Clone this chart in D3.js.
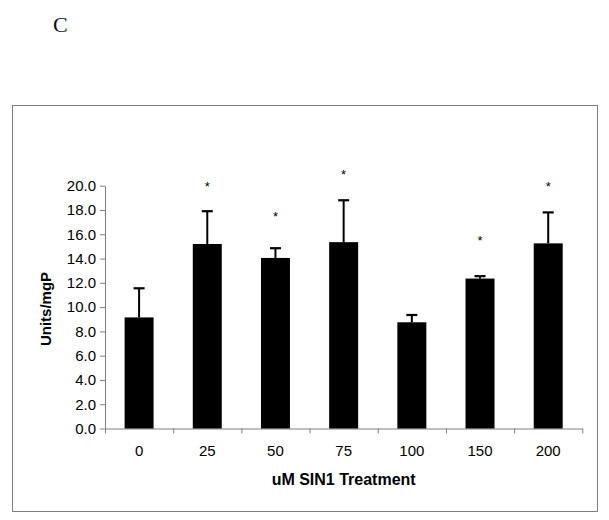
<!DOCTYPE html>
<html>
<head>
<meta charset="utf-8">
<script src="https://cdn.jsdelivr.net/npm/d3@7"></script>
<style>
  html, body { margin: 0; padding: 0; background: #fff; }
  svg { display: block; }
</style>
</head>
<body>
<svg id="chart" width="609" height="520"></svg>
<script>
// ---- data ----
const categories = ["0", "25", "50", "75", "100", "150", "200"];
const means      = [9.15, 15.2, 14.05, 15.35, 8.75, 12.35, 15.25];
const errorTops  = [11.55, 17.9, 14.85, 18.8, 9.35, 12.55, 17.8];
const starLevels = [null, 20.15, 17.7, 21.1, null, 15.7, 20.1];
const yTicks     = [0, 2, 4, 6, 8, 10, 12, 14, 16, 18, 20];
const panelLabel = "C";
const xTitle = "uM SIN1 Treatment";
const yTitle = "Units/mgP";

(function () {
// ---- layout ----
const svg = d3.select("#chart");
const plotLeft = 105, plotRight = 582.3, plotTop = 185.7, plotBottom = 428.5;
const axisGray = "#808080";

svg.append("text")
  .attr("x", 53).attr("y", 32)
  .attr("font-family", "Liberation Serif, Times New Roman, serif")
  .attr("font-size", 22)
  .attr("fill", "#111")
  .text(panelLabel);

svg.append("rect")
  .attr("x", 12.5).attr("y", 105.5)
  .attr("width", 585).attr("height", 406)
  .attr("fill", "none").attr("stroke", axisGray).attr("stroke-width", 1);

const x = d3.scaleBand().domain(categories).range([plotLeft, plotRight])
  .paddingInner(0.575).paddingOuter(0.2875);
const y = d3.scaleLinear().domain([0, 20]).range([plotBottom, plotTop]);

// y axis
const yAxis = svg.append("g")
  .attr("transform", `translate(${plotLeft},0)`)
  .call(d3.axisLeft(y).tickValues(yTicks).tickFormat(d3.format(".1f"))
    .tickSize(5).tickSizeOuter(0).tickPadding(4));
yAxis.select(".domain").attr("stroke", axisGray);
yAxis.selectAll(".tick line").attr("stroke", axisGray);
yAxis.selectAll(".tick text")
  .attr("font-family", "Liberation Sans, Arial, sans-serif")
  .attr("font-size", 15).attr("fill", "#000");

// x axis (ticks at category boundaries)
const xb = d3.scaleLinear().domain([0, categories.length]).range([plotLeft, plotRight]);
const xAxis = svg.append("g")
  .attr("transform", `translate(0,${plotBottom})`)
  .call(d3.axisBottom(xb).tickValues(d3.range(categories.length + 1))
    .tickFormat("").tickSize(5).tickSizeOuter(0));
xAxis.select(".domain").attr("stroke", axisGray);
xAxis.selectAll(".tick line").attr("stroke", axisGray);

svg.append("g").selectAll("text").data(categories).join("text")
  .attr("x", d => x(d) + x.bandwidth() / 2)
  .attr("y", 456)
  .attr("text-anchor", "middle")
  .attr("font-family", "Liberation Sans, Arial, sans-serif")
  .attr("font-size", 15).attr("fill", "#000")
  .text(d => d);

// error bars (upper only)
const eb = svg.append("g");
categories.forEach((c, i) => {
  const cx = x(c) + x.bandwidth() / 2;
  eb.append("line")
    .attr("x1", cx).attr("x2", cx)
    .attr("y1", y(means[i])).attr("y2", y(errorTops[i]))
    .attr("stroke", "#000").attr("stroke-width", 2);
  eb.append("line")
    .attr("x1", cx - 5.5).attr("x2", cx + 5.5)
    .attr("y1", y(errorTops[i])).attr("y2", y(errorTops[i]))
    .attr("stroke", "#000").attr("stroke-width", 2.2);
});

// bars
svg.append("g").selectAll("rect").data(categories).join("rect")
  .attr("x", d => x(d))
  .attr("width", x.bandwidth())
  .attr("y", (d, i) => y(means[i]))
  .attr("height", (d, i) => y(0) - y(means[i]))
  .attr("fill", "#000");

// significance stars
svg.append("g").selectAll("text")
  .data(categories.map((c, i) => ({ c, v: starLevels[i] })).filter(d => d.v !== null))
  .join("text")
  .attr("x", d => x(d.c) + x.bandwidth() / 2)
  .attr("y", d => y(d.v) + 7)
  .attr("text-anchor", "middle")
  .attr("font-family", "Liberation Sans, Arial, sans-serif")
  .attr("font-size", 13).attr("fill", "#000")
  .text("*");

// axis titles
svg.append("text")
  .attr("x", (plotLeft + plotRight) / 2).attr("y", 485)
  .attr("text-anchor", "middle")
  .attr("font-family", "Liberation Sans, Arial, sans-serif")
  .attr("font-size", 16).attr("font-weight", "bold").attr("fill", "#000")
  .text(xTitle);

svg.append("text")
  .attr("transform", `translate(51,309) rotate(-90)`)
  .attr("text-anchor", "middle")
  .attr("font-family", "Liberation Sans, Arial, sans-serif")
  .attr("font-size", 15).attr("font-weight", "bold").attr("fill", "#000")
  .text(yTitle);
})();
</script>
</body>
</html>
